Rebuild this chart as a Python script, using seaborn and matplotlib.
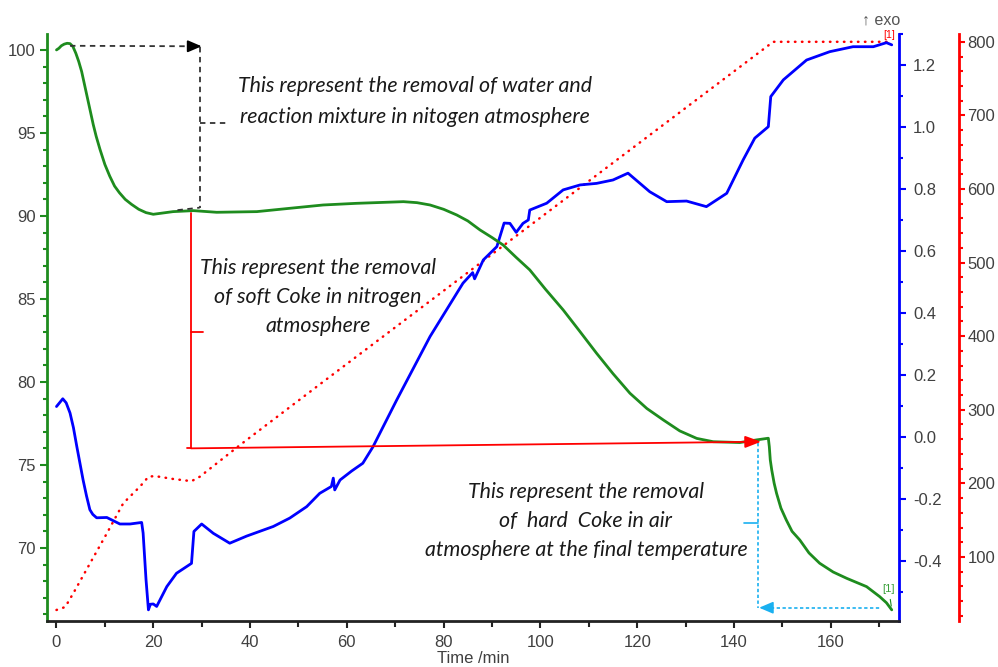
import matplotlib
matplotlib.use("Agg")
import matplotlib.pyplot as plt
import seaborn as sns
import pandas as pd
from matplotlib.ticker import MultipleLocator, FormatStrFormatter

# ---------------- data ----------------
tg_time = [0, 0.5, 1, 1.6, 2.2, 2.8, 3.4, 4.0, 4.6, 5.2, 5.8, 6.4, 7.0, 7.6, 8.2, 9,
           10, 11, 12, 13, 14.2, 15.5, 17, 18.5, 20,
           24.1, 28.3, 33.1, 41.4, 48.2, 55.1, 62, 71.7, 74.5, 77.2, 80, 82.7, 85,
           87.5, 90, 92.3, 95, 97.8, 101, 104.7, 108, 111.6, 115, 118.5, 122, 125.4,
           128.8, 132.3, 135.7, 141.2, 144.7, 147.1, 147.3, 147.5, 147.8, 148.3,
           148.8, 149.7, 150.8, 152, 153.6, 155.5, 157.7, 160.5, 163.3, 167.4, 170.1,
           171.5, 172.6]
tg_mass = [100.0, 100.1, 100.25, 100.35, 100.4, 100.38, 100.2, 99.8, 99.3, 98.7,
           97.9, 97.1, 96.3, 95.5, 94.8, 94.0, 93.1, 92.4, 91.8, 91.4, 91.0, 90.7,
           90.4, 90.2, 90.1,
           90.26, 90.32, 90.22, 90.26, 90.46, 90.66, 90.76, 90.86, 90.8, 90.66, 90.4,
           90.06, 89.7, 89.16, 88.7, 88.25, 87.5, 86.75, 85.6, 84.34, 83.1, 81.73,
           80.5, 79.32, 78.4, 77.71, 77.05, 76.6, 76.4, 76.35, 76.51, 76.61, 76.1,
           75.3, 74.7, 73.9, 73.29, 72.4, 71.69, 71.0, 70.48, 69.7, 69.08, 68.55,
           68.17, 67.67, 67.07, 66.7, 66.27]

dsc_time = [0, 1.3, 2.0, 2.8, 3.5, 4.2, 5.5, 6.2, 6.9, 7.5, 8.3, 10.4, 13.1, 15.2,
            17.6, 17.9, 18.5, 19.0, 19.4, 20.0, 20.7, 22.8, 24.8, 27.9, 28.4, 30.0,
            32.4, 35.8, 39.3, 44.8, 48.2, 51.7, 54.4, 56.8, 57.2, 57.5, 58.6, 61,
            63.3, 65.4, 70.3, 77.2, 84.0, 86, 86.4, 88.2, 91.0, 92.5, 93.7, 95, 96.4,
            97.5, 97.8, 101.3, 104.7, 108.2, 111.6, 115, 118.1, 122.6, 126.1, 130.2,
            134.3, 138.5, 141.9, 144.3, 147.1, 147.6, 150.2, 155.0, 159.8, 164.6,
            168.8, 171.5, 172.6]
dsc_signal = [0.098, 0.123, 0.11, 0.077, 0.03, -0.031, -0.139, -0.19, -0.235, -0.25,
              -0.261, -0.26, -0.281, -0.281, -0.276, -0.31, -0.46, -0.558, -0.54,
              -0.539, -0.547, -0.483, -0.44, -0.408, -0.305, -0.281, -0.311, -0.343,
              -0.32, -0.289, -0.262, -0.225, -0.182, -0.16, -0.133, -0.171, -0.139,
              -0.11, -0.085, -0.032, 0.119, 0.324, 0.496, 0.53, 0.51, 0.571, 0.614,
              0.69, 0.689, 0.66, 0.689, 0.70, 0.732, 0.754, 0.797, 0.813, 0.818, 0.829,
              0.851, 0.791, 0.759, 0.761, 0.743, 0.786, 0.894, 0.964, 1.001, 1.098,
              1.152, 1.216, 1.243, 1.259, 1.259, 1.272, 1.265]

temp_time = [0, 1.8, 3.5, 6.9, 10.4, 13.8, 17.3, 19.0, 20.3, 24.1, 27.9, 29.6,
             37.9, 55.1, 148.1, 172.6]
temp_value = [28, 32, 51, 91, 132, 173, 196, 209, 210, 206, 203, 209, 252, 338,
              800, 800]

x_ticks = [0, 20, 40, 60, 80, 100, 120, 140, 160]
tg_ticks = [70, 75, 80, 85, 90, 95, 100]
dsc_ticks = [-0.4, -0.2, 0.0, 0.2, 0.4, 0.6, 0.8, 1.0, 1.2]
temp_ticks = [100, 200, 300, 400, 500, 600, 700, 800]

text_water = "This represent the removal of water and\nreaction mixture in nitogen atmosphere"
text_soft = "This represent the removal\nof soft Coke in nitrogen\natmosphere"
text_hard = "This represent the removal\nof  hard  Coke in air\natmosphere at the final temperature"

# ---------------- styling ----------------
sns.set_theme(style="white")
plt.rcParams["font.family"] = ["Liberation Sans", "DejaVu Sans"]

GREEN = "#1e8c1e"
BLUE = "#0000ff"
RED = "#ff0000"
CYAN = "#1ab0f0"
LABEL = "#404040"

fig = plt.figure(figsize=(9.98, 6.67), dpi=100)
ax = fig.add_axes([47 / 998, 1 - 621 / 667, (899 - 47) / 998, (621 - 34) / 667])
ax2 = ax.twinx()
ax3 = ax.twinx()

df_tg = pd.DataFrame({"t": tg_time, "v": tg_mass})
df_dsc = pd.DataFrame({"t": dsc_time, "v": dsc_signal})
df_temp = pd.DataFrame({"t": temp_time, "v": temp_value})

sns.lineplot(data=df_temp, x="t", y="v", ax=ax3, color=RED, lw=1.8,
             linestyle=(0, (0.2, 2.6)), dash_capstyle="round", estimator=None, sort=False)
sns.lineplot(data=df_dsc, x="t", y="v", ax=ax2, color=BLUE, lw=2.0, estimator=None, sort=False)
sns.lineplot(data=df_tg, x="t", y="v", ax=ax, color=GREEN, lw=2.0, estimator=None, sort=False)

ax.set_zorder(ax3.get_zorder() + 2)
ax2.set_zorder(ax3.get_zorder() + 1)
ax.patch.set_visible(False)
ax2.patch.set_visible(False)

ax.set_xlim(-1.96, 174.1)
ax.set_ylim(65.6, 100.96)
ax2.set_ylim(-0.594, 1.30)
ax3.set_ylim(13.0, 810.6)

for a in (ax, ax2, ax3):
    a.set_xlabel("")
    a.set_ylabel("")
    a.grid(False)
    for s in a.spines.values():
        s.set_visible(False)

# spines
ax.spines["left"].set_visible(True)
ax.spines["left"].set_color(GREEN)
ax.spines["left"].set_linewidth(2)
ax.spines["bottom"].set_visible(True)
ax.spines["bottom"].set_color("#222222")
ax.spines["bottom"].set_linewidth(2)
ax2.spines["right"].set_visible(True)
ax2.spines["right"].set_color(BLUE)
ax2.spines["right"].set_linewidth(2)
ax3.spines["right"].set_visible(True)
ax3.spines["right"].set_position(("axes", (959 - 47) / (899 - 47)))
ax3.spines["right"].set_color(RED)
ax3.spines["right"].set_linewidth(2)

# ticks
ax.set_xticks(x_ticks)
ax.xaxis.set_minor_locator(MultipleLocator(10))
ax.set_yticks(tg_ticks)
ax.yaxis.set_minor_locator(MultipleLocator(1))
ax2.set_yticks(dsc_ticks)
ax2.yaxis.set_minor_locator(MultipleLocator(0.1))
ax2.yaxis.set_major_formatter(FormatStrFormatter("%.1f"))
ax3.set_yticks(temp_ticks)
ax3.yaxis.set_minor_locator(MultipleLocator(20))

fs = 12
ax.tick_params(axis="x", which="both", bottom=True, direction="out", colors="#222222",
               labelcolor=LABEL, labelsize=fs, width=1.5)
ax.tick_params(axis="x", which="major", length=5, pad=5)
ax.tick_params(axis="x", which="minor", length=4)
ax.tick_params(axis="y", which="both", left=True, direction="out", colors=GREEN,
               labelcolor=LABEL, labelsize=fs, width=1.5)
ax.tick_params(axis="y", which="major", length=5, pad=3)
ax.tick_params(axis="y", which="minor", length=3)
ax2.tick_params(axis="y", which="both", right=True, direction="out", colors=BLUE,
                labelcolor=LABEL, labelsize=fs, width=1.5)
ax2.tick_params(axis="y", which="major", length=5, pad=5)
ax2.tick_params(axis="y", which="minor", length=3)
ax3.tick_params(axis="y", which="both", right=True, direction="out", colors=RED,
                labelcolor=LABEL, labelsize=fs, width=1.5)
ax3.tick_params(axis="y", which="major", length=4, pad=2)
ax3.tick_params(axis="y", which="minor", length=3)
ax2.tick_params(axis="x", bottom=False, labelbottom=False)
ax3.tick_params(axis="x", bottom=False, labelbottom=False)

ax.set_xlabel("Time /min", fontsize=fs, color=LABEL, labelpad=1)

# ---------------- annotations ----------------
tfont = dict(family=["Lato", "DejaVu Sans"], style="italic", fontsize=15.4, color="#1a1a1a")

# water removal (black dashed)
DK = "#333333"
ax.plot([2.8, 29.2], [100.25, 100.22], ls=(0, (3, 2.5)), color=DK, lw=1.3)
ax.annotate("", xy=(30.0, 100.22), xytext=(27.5, 100.22),
            arrowprops=dict(arrowstyle="-|>,head_length=0.7,head_width=0.3",
                            color="black", lw=1.3, shrinkA=0, shrinkB=0))
ax.plot([29.6, 29.6], [100.2, 90.5], ls=(0, (3, 2.5)), color=DK, lw=1.3)
ax.plot([25.0, 29.6], [90.35, 90.5], ls=(0, (3, 2.5)), color=DK, lw=1.3)
ax.plot([29.6, 35.5], [95.6, 95.6], ls=(0, (3, 2.5)), color=DK, lw=1.3)
ax.text(74.0, 96.87, text_water, ha="center", va="center", linespacing=1.69, **tfont)

# soft coke (red)
ax.plot([27.8, 27.8], [90.2, 76.0], color=RED, lw=1.3)
ax.plot([27.8, 30.2], [83.0, 83.0], color=RED, lw=1.3)
ax.plot([27.0, 27.8], [76.0, 76.0], color=RED, lw=1.3)
ax.annotate("", xy=(145.6, 76.4), xytext=(27.8, 76.0),
            arrowprops=dict(arrowstyle="-|>,head_length=0.8,head_width=0.3",
                            color=RED, lw=1.3, shrinkA=0, shrinkB=0))
ax.text(54.0, 85.12, text_soft, ha="center", va="center", linespacing=1.55, **tfont)

# hard coke (cyan)
ax.plot([145.0, 145.0], [76.3, 66.4], ls=(0, (2, 1.5)), color=CYAN, lw=1.2)
ax.plot([142.0, 145.0], [71.5, 71.5], color=CYAN, lw=1.2)
ax.plot([146.5, 170.2], [66.4, 66.4], ls=(0, (2, 1.5)), color=CYAN, lw=1.2)
ax.annotate("", xy=(145.2, 66.4), xytext=(148.0, 66.4),
            arrowprops=dict(arrowstyle="-|>,head_length=0.7,head_width=0.3",
                            color=CYAN, lw=1.2, shrinkA=0, shrinkB=0))
ax.text(109.4, 71.63, text_hard, ha="center", va="center", linespacing=1.55, **tfont)

# curve labels
ax.text(172.0, 67.25, "[1]", color="#3aa03a", fontsize=8, ha="center", va="bottom")
ax.plot([172.3, 172.5], [66.9, 66.5], color=GREEN, lw=0.8)
fig.text(889 / 998, 1 - 35 / 667, "[1]", color=RED, fontsize=7.5, ha="center", va="center")
fig.text(881 / 998, 1 - 20 / 667, "↑ exo", color="#555555", fontsize=11.5, ha="center",
         va="center")

fig.savefig("out.png", dpi=100)
